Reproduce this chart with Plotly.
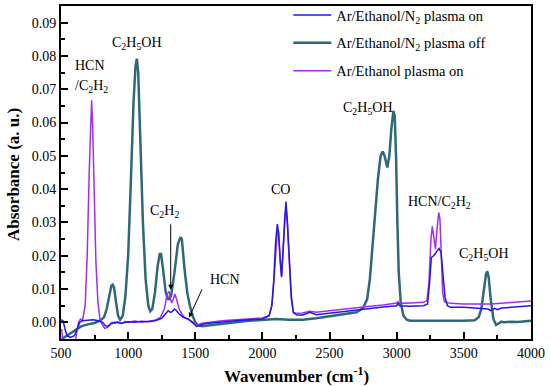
import plotly.graph_objects as go

# ---------------- data ----------------
off_x = [505, 520, 560, 600, 650, 700, 750, 790, 820, 840, 860, 875, 885, 895, 910, 925, 940, 960, 980,
         1000, 1020, 1040, 1055, 1065, 1075, 1090, 1110, 1130, 1150, 1165, 1180, 1200, 1220, 1235, 1245,
         1260, 1280, 1300, 1320, 1345, 1370, 1390, 1400, 1420, 1440, 1460, 1480, 1500, 1520, 1550, 1600,
         1700, 1800, 1900, 2000, 2100, 2200, 2300, 2400, 2500, 2600, 2700, 2750, 2780, 2800, 2820, 2840,
         2860, 2880, 2895, 2910, 2930, 2945, 2960, 2975, 2985, 2995, 3005, 3015, 3030, 3050, 3075, 3100,
         3200, 3300, 3400, 3500, 3580, 3610, 3630, 3650, 3665, 3675, 3685, 3700, 3720, 3740, 3760, 3780,
         3800, 3850, 3900, 3950, 4000]
off_y = [-0.005, -0.0046, -0.0035, -0.0025, -0.0012, -0.0006, -0.0002, 0.0005, 0.0015, 0.004, 0.0085,
         0.011, 0.0113, 0.0105, 0.006, 0.002, 0.0008, 0.002, 0.008, 0.02, 0.042, 0.066, 0.077, 0.0792,
         0.075, 0.055, 0.03, 0.013, 0.005, 0.0033, 0.004, 0.009, 0.017, 0.0205, 0.0205, 0.016, 0.009,
         0.0068, 0.008, 0.015, 0.0235, 0.0256, 0.025, 0.016, 0.009, 0.005, 0.002, 0.0, -0.0008, -0.0012,
         -0.001, -0.0005, 0.0, 0.0005, 0.0008, 0.001, 0.0008, 0.0008, 0.0012, 0.0018, 0.0022, 0.003,
         0.0043, 0.007, 0.013, 0.022, 0.033, 0.043, 0.05, 0.0513, 0.05, 0.0465, 0.05, 0.058, 0.0635,
         0.062, 0.05, 0.03, 0.015, 0.006, 0.002, 0.0008, 0.0005, 0.0005, 0.0006, 0.0005, 0.0005, 0.0006,
         0.0015, 0.004, 0.01, 0.0145, 0.0153, 0.0135, 0.007, 0.001, -0.0008, -0.0003, 0.0002, 0.0, 0.0002,
         0.0001, 0.0003, 0.0005]

ar_x = [505, 515, 540, 580, 605, 620, 630, 645, 660, 680, 695, 710, 722, 728, 735, 745, 760, 775, 790,
        805, 825, 845, 865, 880, 900, 920, 950, 980, 1000, 1050, 1100, 1150, 1200, 1240, 1270, 1290, 1305,
        1315, 1325, 1335, 1348, 1360, 1380, 1400, 1420, 1450, 1480, 1500, 1520, 1550, 1600, 1700, 1800,
        1900, 2000, 2050, 2070, 2085, 2100, 2112, 2120, 2132, 2142, 2152, 2165, 2175, 2185, 2200, 2215,
        2230, 2260, 2300, 2350, 2400, 2500, 2600, 2700, 2800, 2900, 3000, 3010, 3020, 3100, 3200, 3225,
        3240, 3255, 3265, 3275, 3288, 3300, 3313, 3322, 3333, 3342, 3355, 3400, 3500, 3600, 3700, 3800,
        3850, 3900, 3950, 4000]
ar_y = [-0.002, -0.006, -0.007, -0.007, -0.006, -0.002, 0.0, 0.001, 0.0005, 0.005, 0.02, 0.045, 0.062,
        0.0667, 0.06, 0.04, 0.018, 0.006, 0.001, -0.0005, -0.0018, -0.0015, -0.0005, 0.0, -0.0003, 0.0002,
        -0.0004, 0.0003, 0.0, 0.0004, 0.0, 0.0003, 0.0006, 0.0015, 0.004, 0.0085, 0.0093, 0.007, 0.0058,
        0.0068, 0.0085, 0.007, 0.004, 0.0025, 0.0015, 0.0008, 0.0, -0.0005, -0.0008, -0.0003, 0.0, 0.0005,
        0.0008, 0.001, 0.0013, 0.002, 0.005, 0.012, 0.022, 0.028, 0.027, 0.018, 0.0135, 0.02, 0.031,
        0.0345, 0.03, 0.018, 0.007, 0.003, 0.0027, 0.0028, 0.0033, 0.003, 0.0035, 0.0038, 0.0043, 0.0048,
        0.0052, 0.0058, 0.0062, 0.0057, 0.0058, 0.006, 0.0065, 0.012, 0.025, 0.0288, 0.026, 0.022, 0.028,
        0.033, 0.031, 0.02, 0.009, 0.0062, 0.0057, 0.0055, 0.0055, 0.0055, 0.0058, 0.006, 0.0062, 0.0063,
        0.0064]

n2_x = [500, 515, 530, 545, 570, 600, 620, 640, 660, 700, 740, 780, 810, 830, 850, 870, 900, 950, 1000,
        1050, 1100, 1150, 1200, 1250, 1280, 1298, 1315, 1330, 1345, 1360, 1380, 1410, 1448, 1480, 1510,
        1530, 1560, 1600, 1700, 1800, 1900, 2000, 2050, 2070, 2085, 2098, 2111, 2120, 2133, 2143, 2153,
        2165, 2175, 2185, 2200, 2215, 2230, 2255, 2300, 2354, 2400, 2500, 2600, 2700, 2800, 2900, 3000,
        3010, 3020, 3100, 3200, 3230, 3245, 3258, 3275, 3295, 3315, 3330, 3345, 3360, 3378, 3400, 3500,
        3600, 3680, 3700, 3730, 3750, 3780, 3850, 3900, 4000]
n2_y = [0.0008, 0.0005, -0.002, -0.004, -0.0045, -0.004, -0.002, 0.0, 0.0005, 0.0006, 0.0008, 0.0005,
        0.0, -0.001, -0.0012, -0.0005, 0.0, -0.0003, 0.0002, 0.0, 0.0003, 0.0002, 0.0005, 0.0012, 0.0028,
        0.0035, 0.003, 0.0033, 0.004, 0.0035, 0.0025, 0.0015, 0.001, 0.0, -0.0012, -0.001, -0.0005,
        -0.0003, 0.0002, 0.0005, 0.0008, 0.001, 0.002, 0.005, 0.013, 0.024, 0.0295, 0.027, 0.018, 0.0138,
        0.021, 0.032, 0.0363, 0.031, 0.019, 0.008, 0.003, 0.0022, 0.0022, 0.003, 0.0023, 0.0028, 0.0032,
        0.0038, 0.0042, 0.0046, 0.005, 0.0058, 0.005, 0.0048, 0.005, 0.0055, 0.012, 0.0195, 0.02, 0.021,
        0.0222, 0.021, 0.015, 0.0075, 0.005, 0.0045, 0.0045, 0.0042, 0.004, 0.0035, 0.0042, 0.0038,
        0.0043, 0.0045, 0.0047, 0.005]

series_names = ["Ar/Ethanol/N<sub>2</sub> plasma on",
                "Ar/Ethanol/N<sub>2</sub> plasma off",
                "Ar/Ethanol plasma on"]

x_ticks = [500, 1000, 1500, 2000, 2500, 3000, 3500, 4000]
y_ticks = [0.00, 0.01, 0.02, 0.03, 0.04, 0.05, 0.06, 0.07, 0.08, 0.09]

x_title = "<b>Wavenumber (cm<sup>-1</sup>)</b>"
y_title = "<b>Absorbance (a. u.)</b>"

# annotations: (text, x, y, anchor)
labels = [
    ("HCN", 589, 0.0772, "left"),
    ("/C<sub>2</sub>H<sub>2</sub>", 589, 0.0708, "left"),
    ("C<sub>2</sub>H<sub>5</sub>OH", 1066, 0.0837, "center"),
    ("C<sub>2</sub>H<sub>2</sub>", 1274, 0.0333, "center"),
    ("HCN", 1721, 0.0130, "center"),
    ("CO", 2131, 0.0398, "center"),
    ("C<sub>2</sub>H<sub>5</sub>OH", 2786, 0.0642, "center"),
    ("HCN/C<sub>2</sub>H<sub>2</sub>", 3322, 0.0360, "center"),
    ("C<sub>2</sub>H<sub>5</sub>OH", 3650, 0.0203, "center"),
]
# arrows: (tail x, tail y, head x, head y)
arrows = [
    (1317, 0.0299, 1317, 0.0098),
    (1555, 0.0103, 1453, 0.0014),
]

FONT = "Liberation Serif, Times New Roman, serif"
C_BLUE = "#2318e6"
C_TEAL = "#2f6878"
C_PURPLE = "#a12ef0"

fig = go.Figure()
fig.add_trace(go.Scatter(x=off_x, y=off_y, mode="lines", name=series_names[1], legendgroup="b",
                         line=dict(color=C_TEAL, width=2.5), legendrank=2))
fig.add_trace(go.Scatter(x=ar_x, y=ar_y, mode="lines", name=series_names[2], legendgroup="c",
                         line=dict(color=C_PURPLE, width=1.5), legendrank=3))
fig.add_trace(go.Scatter(x=n2_x, y=n2_y, mode="lines", name=series_names[0], legendgroup="a",
                         line=dict(color=C_BLUE, width=1.5), legendrank=1))

for text, x, y, al in labels:
    fig.add_annotation(x=x, y=y, text=text, showarrow=False, xanchor=al, yanchor="middle",
                       font=dict(family=FONT, size=14, color="black"))
for tx, ty, hx, hy in arrows:
    fig.add_annotation(x=hx, y=hy, ax=tx, ay=ty, axref="x", ayref="y", xref="x", yref="y",
                       text="", showarrow=True, arrowhead=2, arrowsize=1, arrowwidth=1,
                       arrowcolor="black")

# axis titles placed as paper annotations
fig.add_annotation(xref="paper", yref="paper", x=(296 - 61) / 470, y=(339 - 375) / 333,
                   text=x_title, showarrow=False, xanchor="center", yanchor="middle",
                   font=dict(family=FONT, size=17, color="black"))
fig.add_annotation(xref="paper", yref="paper", x=(13 - 61) / 470, y=(339 - 175) / 333,
                   text=y_title, showarrow=False, xanchor="center", yanchor="middle", textangle=-90,
                   font=dict(family=FONT, size=17, color="black"))

fig.update_layout(
    width=550, height=386,
    margin=dict(l=61, r=19, t=6, b=47, autoexpand=False),
    paper_bgcolor="white", plot_bgcolor="white",
    font=dict(family=FONT, size=14, color="black"),
    showlegend=True,
    legend=dict(x=0.4836, y=1.021, xanchor="left", yanchor="top", bgcolor="rgba(0,0,0,0)",
                font=dict(family=FONT, size=14.5, color="black"), tracegroupgap=6,
                itemwidth=38),
)
fig.update_xaxes(
    range=[500, 4000], tickvals=x_ticks, ticks="inside", ticklen=7, tickwidth=2,
    tickcolor="black", showline=True, linecolor="black", linewidth=2, mirror=True,
    showgrid=False, zeroline=False, automargin=False,
    minor=dict(dtick=250, tick0=500, ticks="inside", ticklen=4, tickwidth=2, tickcolor="black"),
    tickfont=dict(family=FONT, size=14),
)
fig.update_yaxes(
    range=[-0.005, 0.095], tickvals=y_ticks, tickformat=".2f", ticks="inside", ticklen=7,
    tickwidth=2, tickcolor="black", showline=True, linecolor="black", linewidth=2, mirror=True,
    showgrid=False, zeroline=False, automargin=False,
    minor=dict(dtick=0.005, tick0=0, ticks="inside", ticklen=4, tickwidth=2, tickcolor="black"),
    tickfont=dict(family=FONT, size=14),
)

fig.write_html("out.html", config={"displayModeBar": False},
               post_script="document.body.style.margin='0px';document.body.style.padding='0px';")
